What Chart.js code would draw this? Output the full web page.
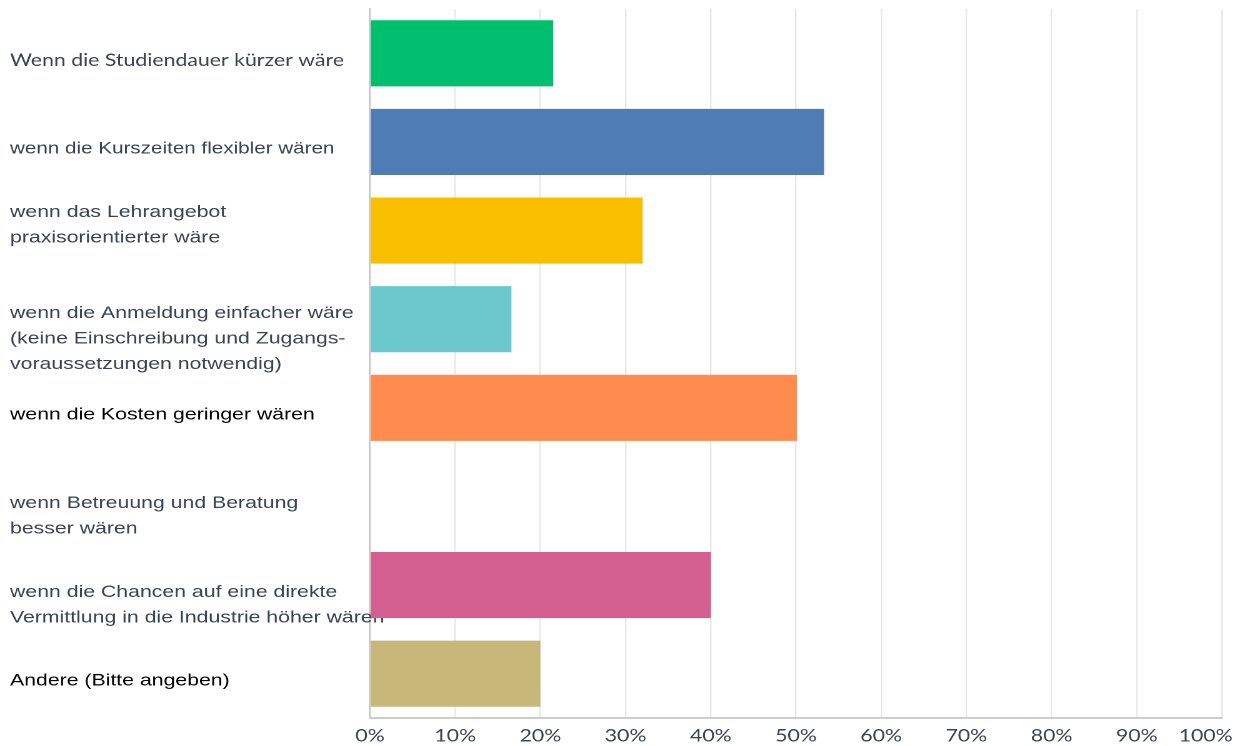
<!DOCTYPE html>
<html>
<head>
<meta charset="utf-8">
<script src="https://cdn.jsdelivr.net/npm/chart.js@4.4.1/dist/chart.umd.min.js"></script>
<style>
  html, body { margin: 0; padding: 0; background: #ffffff; overflow: hidden; }
  /* the chart is laid out at 996px and widened to the 1245px page */
  #wrap { width: 996px; height: 746px; position: relative; transform: scaleX(1.25); transform-origin: 0 0; }
</style>
</head>
<body>
<div id="wrap"><canvas id="chart"></canvas></div>
<script>
// Answer options (multi-line where the label wraps)
const categories = [
  ["Wenn die Studiendauer kürzer wäre"],
  ["wenn die Kurszeiten flexibler wären"],
  ["wenn das Lehrangebot", "praxisorientierter wäre"],
  ["wenn die Anmeldung einfacher wäre", "(keine Einschreibung und Zugangs-", "voraussetzungen notwendig)"],
  ["wenn die Kosten geringer wären"],
  ["wenn Betreuung und Beratung", "besser wären"],
  ["wenn die Chancen auf eine direkte", "Vermittlung in die Industrie höher wären"],
  ["Andere (Bitte angeben)"]
];

// Share of respondents per option, in percent
const shares = [21.5, 53.3, 32.0, 16.6, 50.1, 0, 40.0, 20.0];

// Axis tick labels
const tickValues = [0, 10, 20, 30, 40, 50, 60, 70, 80, 90, 100];
const tickLabels = ["0%", "10%", "20%", "30%", "40%", "50%", "60%", "70%", "80%", "90%", "100%"];

// One colour per option
const barColors = ["#00bf6f", "#507cb6", "#f9be00", "#6bc8cd", "#ff8b4f", "#7d5e90", "#d25f90", "#c7b879"];

// Label colours: a few options are set in plain black
const labelColors = ["#3b4350", "#3b4350", "#3b4350", "#3b4350", "#000000", "#3b4350", "#3b4350", "#000000"];

// Vertical nudge of each option label, in half text lines (+ = down)
const labelNudge = [0, 0, -1, 1, 0, 1, 1, 0];

function nudgedLabel(lines, nudge) {
  const out = lines.slice();
  for (let i = 0; i < Math.abs(nudge); i++) {
    if (nudge > 0) out.unshift(""); else out.push("");
  }
  return out;
}

new Chart(document.getElementById("chart"), {
  type: "bar",
  data: {
    labels: categories,
    datasets: [{
      data: shares,
      backgroundColor: barColors,
      borderWidth: 0,
      categoryPercentage: 1.0,
      barPercentage: 0.745
    }]
  },
  options: {
    indexAxis: "y",
    responsive: true,
    maintainAspectRatio: false,
    devicePixelRatio: 2,
    animation: false,
    layout: { padding: { left: 8, top: 9, right: 18.4, bottom: 0 } },
    plugins: {
      legend: { display: false },
      tooltip: { enabled: false }
    },
    scales: {
      x: {
        min: 0,
        max: 100,
        afterBuildTicks: (scale) => { scale.ticks = tickValues.map(v => ({ value: v })); },
        afterFit: (scale) => {
          scale.paddingLeft = 0;
          scale.paddingRight = 0;
          scale.height = 28;
        },
        ticks: {
          autoSkip: false,
          // the last label is kept inside the page edge
          callback: (value, index) => tickLabels[index] + (index === tickValues.length - 1 ? "      " : ""),
          color: "#3b4350",
          font: { family: "Lato", size: 17 },
          padding: 8,
          maxRotation: 0
        },
        grid: { color: "#e8e8e8", lineWidth: 1.2, drawTicks: false },
        border: { color: "#cccccc", width: 2 }
      },
      y: {
        afterFit: (scale) => {
          scale.width = 288;
          scale.paddingTop = 0;
          scale.paddingBottom = 0;
          // long option texts may run past the axis line
          scale._computeLabelArea = () => undefined;
        },
        ticks: {
          autoSkip: false,
          crossAlign: "far",
          labelOffset: 7,
          callback: function (value, index) { return nudgedLabel(categories[index], labelNudge[index]); },
          color: (ctx) => labelColors[ctx.index],
          font: (ctx) => ({
            family: ctx.index === 0 ? "Lato" : "Liberation Sans",
            size: ctx.index === 1 ? 16.5 : 17,
            lineHeight: 1.5
          })
        },
        grid: { display: false, drawTicks: false },
        border: { color: "#cccccc", width: 1.6 }
      }
    }
  }
});
</script>
</body>
</html>
